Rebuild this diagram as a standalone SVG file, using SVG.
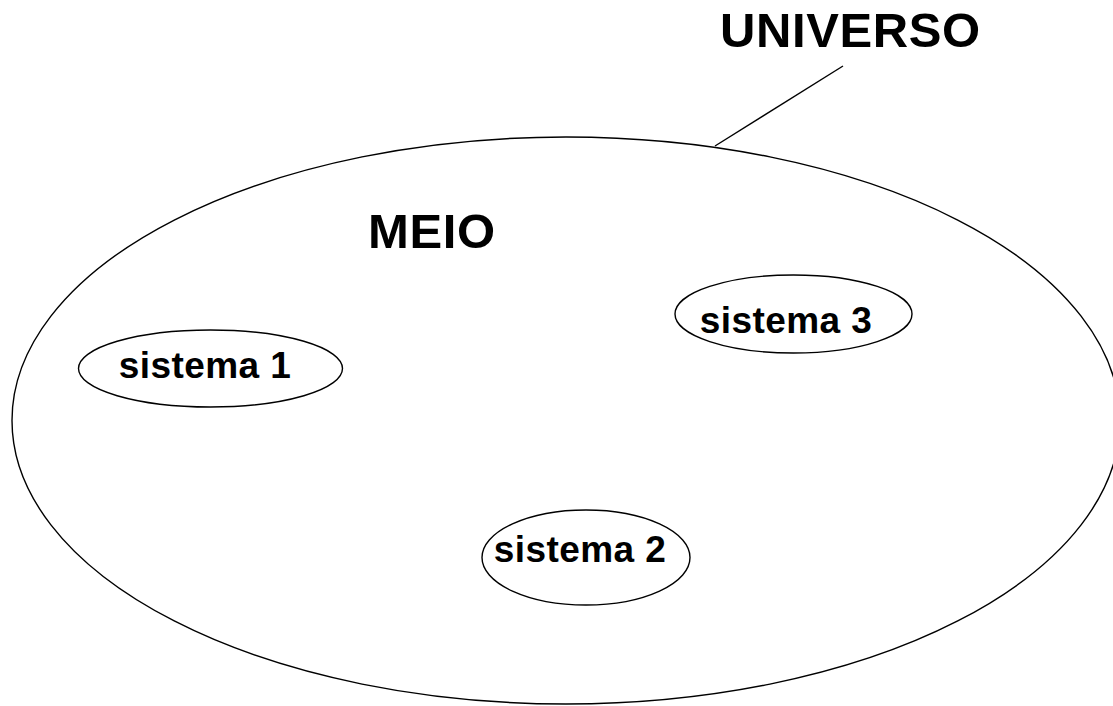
<svg xmlns="http://www.w3.org/2000/svg" width="1113" height="706" viewBox="0 0 1113 706">
<style>
.sh{fill:none;stroke:#000;stroke-width:1.4}
.big{font-family:"Liberation Sans",Arial,sans-serif;font-weight:bold;font-size:49px;fill:#000;letter-spacing:0.6px}
.lbl{font-family:"Liberation Sans",Arial,sans-serif;font-weight:bold;font-size:37px;fill:#000;text-anchor:middle;letter-spacing:0.4px}
</style>
<rect width="1113" height="706" fill="#fff"/>
<g id="universo">
<ellipse class="sh" cx="566" cy="420.5" rx="554" ry="283.5"/>
<text class="big" x="720" y="47">UNIVERSO</text>
</g>
<g id="meio">
<text class="big" x="368" y="248">MEIO</text>
</g>
<g id="sistema1">
<ellipse class="sh" cx="210.5" cy="368.5" rx="132" ry="38.5"/>
<text class="lbl" x="205" y="378">sistema 1</text>
</g>
<g id="sistema3">
<ellipse class="sh" cx="793.5" cy="314" rx="118.5" ry="39"/>
<text class="lbl" x="786" y="333">sistema 3</text>
</g>
<g id="sistema2">
<ellipse class="sh" cx="586" cy="557.5" rx="104" ry="47.5"/>
<text class="lbl" x="580" y="562">sistema 2</text>
</g>
<g id="connectors">
<line class="sh" x1="843" y1="66" x2="715" y2="146"/>
</g>
</svg>
